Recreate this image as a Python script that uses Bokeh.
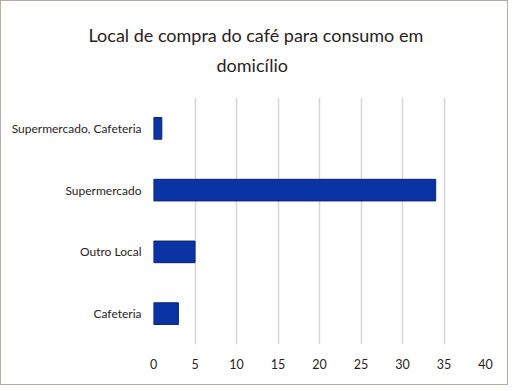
from bokeh.plotting import figure
from bokeh.models import Range1d, FactorRange, Title
from bokeh.embed import file_html
from bokeh.resources import INLINE

categories = ["Cafeteria", "Outro Local", "Supermercado", "Supermercado, Cafeteria"]
values = [3, 5, 34, 1]
x_ticks = [0, 5, 10, 15, 20, 25, 30, 35, 40]
title_lines = ["Local de compra do café para consumo em", "domicílio"]

FONT = "Lato"
TXT = "#2b1d1d"

p = figure(width=508, height=385, output_backend="svg", toolbar_location=None,
           y_range=FactorRange(*categories), x_range=Range1d(0, 40),
           min_border_left=152, min_border_right=24, min_border_bottom=42, min_border_top=96)
p.title.visible = False
# spacer closest to the plot, then line 2, then line 1
t0 = Title(text=" ", text_font_size="1px", standoff=12)
t2 = Title(text=title_lines[1], align="left", text_font=FONT, text_font_size="18px",
           text_color=TXT, text_font_style="normal", standoff=13, offset=63)
t1 = Title(text=title_lines[0], align="left", text_font=FONT, text_font_size="18px",
           text_color=TXT, text_font_style="normal", standoff=0, offset=-65)
p.add_layout(t0, "above")
p.add_layout(t2, "above")
p.add_layout(t1, "above")

p.hbar(y=categories, right=values, left=0, height=0.35,
       fill_color="#0a34a4", line_color="#0a2270", line_width=1)

p.outline_line_color = None
p.xgrid.grid_line_color = "#d9d4d4"
p.xgrid.grid_line_width = 1.5
p.ygrid.grid_line_color = None
p.xaxis.ticker = x_ticks
p.xaxis.axis_line_color = None
p.yaxis.axis_line_color = None
p.xaxis.major_tick_line_color = None
p.yaxis.major_tick_line_color = None
p.xaxis.minor_tick_line_color = None
p.xaxis.major_label_text_font = FONT
p.yaxis.major_label_text_font = FONT
p.xaxis.major_label_text_font_size = "12.5px"
p.yaxis.major_label_text_font_size = "12px"
p.xaxis.major_label_text_color = TXT
p.yaxis.major_label_text_color = TXT
p.xaxis.major_label_standoff = 8
p.yaxis.major_label_standoff = 6
p.styles = {"border": "1px solid #b8aaa6"}

open("out.html", "w").write(file_html(p, INLINE))
